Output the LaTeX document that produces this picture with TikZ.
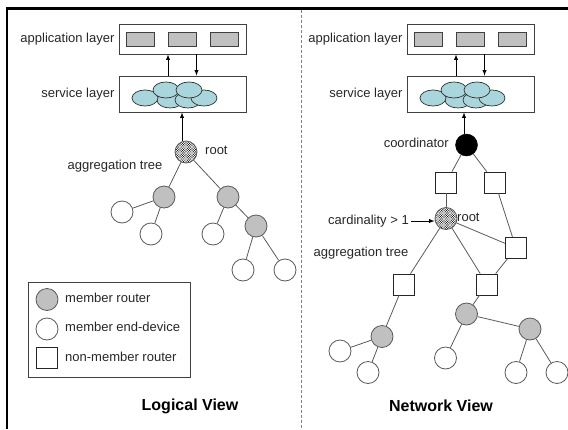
\documentclass[tikz,border=0pt]{standalone}
\usepackage{fontspec}
\setmainfont{Liberation Sans}
\usetikzlibrary{arrows, patterns}
\definecolor{boxgray}{RGB}{192,192,192}
\definecolor{cloudblue}{RGB}{168,214,220}
\definecolor{edgegray}{RGB}{90,90,90}

\pgfdeclarepatternformonly{densedots}{\pgfqpoint{-1pt}{-1pt}}{\pgfqpoint{3pt}{3pt}}{\pgfqpoint{2.4pt}{2.4pt}}{
    \pgfpathcircle{\pgfqpoint{0pt}{0pt}}{.6pt}
    \pgfpathcircle{\pgfqpoint{1.2pt}{1.2pt}}{.6pt}
    \pgfusepath{fill}
}

\tikzset{
    member/.style={circle, draw=edgegray, fill=boxgray, line width=0.8pt, minimum size=22pt, inner sep=0pt},
    enddevice/.style={circle, draw=edgegray, fill=white, line width=0.8pt, minimum size=22pt, inner sep=0pt},
    nonmember/.style={rectangle, draw=black!85, fill=white, line width=0.8pt, minimum size=21pt, inner sep=0pt},
    rootnode/.style={circle, draw=edgegray, preaction={fill=white}, pattern=densedots, line width=0.8pt, minimum size=22pt, inner sep=0pt},
    coordnode/.style={circle, draw=black, fill=black, minimum size=22pt, inner sep=0pt},
    layerbox/.style={rectangle, draw=black!75, fill=white, line width=0.8pt, minimum width=127pt, inner sep=0pt},
    cell/.style={rectangle, draw=black!75, fill=boxgray, line width=0.8pt, minimum width=28pt, minimum height=14pt, inner sep=0pt},
    cloud/.style={draw=black!80, fill=cloudblue, line width=0.7pt},
    treeedge/.style={draw=edgegray, line width=0.8pt},
    arrowline/.style={-latex, line width=0.9pt},
    txt/.style={font=\fontsize{13}{15}\selectfont, text=black!85, inner sep=0pt},
    viewtitle/.style={font=\fontsize{16}{19}\selectfont\bfseries, inner sep=0pt}
}

\begin{document}
\begin{tikzpicture}[x=1pt, y=-1pt]
        \useasboundingbox (0,0) rectangle (568,429);

        \draw[line width=3pt] (7,8.5) -- (568,8.5);
        \draw[line width=1.5pt] (7,7) -- (7,429);
        \draw[gray, line width=1pt, dash pattern=on 3pt off 2pt] (301.5,10) -- (301.5,429);

        \foreach \dx/\side in {0/L, 288/R} {
            \node[layerbox, minimum height=30pt] (app\side) at (182.5+\dx,39) {};
            \foreach \cx/\k in {-42/1, 0/2, 42/3}
                \node[cell] (cell\side\k) at (182.5+\dx+\cx,39) {};
            \node[layerbox, minimum height=36pt] (svc\side) at (182.5+\dx,94) {};
            \foreach \ex/\ey in {170/100, 188/100, 145/98, 204/98, 166/90, 189/90}
                \draw[cloud] (\ex+\dx,\ey) ellipse [x radius=13pt, y radius=8pt];
            \node[txt, anchor=east] (apptxt\side) at ([xshift=-4pt]app\side.west) {application layer};
            \node[txt, anchor=east] (svctxt\side) at ([xshift=-4pt]svc\side.west) {service layer};
            \draw[arrowline] ([xshift=-14.5pt]svc\side.north) -- ([xshift=-14.5pt]app\side.south);
            \draw[arrowline] ([xshift=14pt]app\side.south) -- ([xshift=14pt]svc\side.north);
        }

        % logical view
        \node[rootnode] (rootL) at (186,152) {};
        \node[member] (mL1) at (164,197) {};
        \node[member] (mL2) at (228,197) {};
        \node[member] (mL3) at (256,226) {};
        \node[enddevice] (eL1) at (122,212) {};
        \node[enddevice] (eL2) at (151,234) {};
        \node[enddevice] (eL3) at (213,234) {};
        \node[enddevice] (eL4) at (243,270) {};
        \node[enddevice] (eL5) at (285,270) {};
        \foreach \a/\b in {rootL/mL1, rootL/mL2, mL1/eL1, mL1/eL2, mL2/eL3, mL2/mL3, mL3/eL4, mL3/eL5}
            \draw[treeedge] (\a) -- (\b);
        \draw[arrowline] ([xshift=-4pt]rootL.north) -- ([xshift=-4pt]rootL.north |- svcL.south);
        \node[txt, anchor=west] (rootLtxt) at (205,150) {root};
        \node[txt] (treeLtxt) at (115,166) {aggregation tree};

        \draw[black!75, line width=0.8pt] (28,282) rectangle (190,377);
        \node[member] (keyM) at (47,299.5) {};
        \node[enddevice] (keyE) at (47,329) {};
        \node[nonmember] (keyN) at (47,358) {};
        \node[txt, anchor=west] (keyMtxt) at (65,297.5) {member router};
        \node[txt, anchor=west] (keyEtxt) at (65,327) {member end-device};
        \node[txt, anchor=west] (keyNtxt) at (65,356.5) {non-member router};

        \node[viewtitle] (logical) at (190,406) {Logical View};

        % network view
        \node[coordnode] (coordR) at (466.5,145) {};
        \node[nonmember] (nR1) at (446,182.5) {};
        \node[nonmember] (nR2) at (495,182.5) {};
        \node[rootnode] (rootR) at (446,218.5) {};
        \node[nonmember] (nR3) at (516,248) {};
        \node[nonmember] (nR4) at (403.5,284.5) {};
        \node[nonmember] (nR5) at (487,284.5) {};
        \node[member] (mR1) at (382,336.5) {};
        \node[member] (mR2) at (466.5,314) {};
        \node[member] (mR3) at (530,329) {};
        \node[enddevice] (eR1) at (340,351) {};
        \node[enddevice] (eR2) at (368,372.5) {};
        \node[enddevice] (eR3) at (445.5,358) {};
        \node[enddevice] (eR4) at (516,372.5) {};
        \node[enddevice] (eR5) at (557,372.5) {};
        \foreach \a/\b in {coordR/nR1, coordR/nR2, nR1/rootR, rootR/nR3, nR2/nR3, rootR/nR4, rootR/nR5, nR3/nR5,
                nR4/mR1, mR1/eR1, mR1/eR2, nR5/mR2, mR2/mR3, mR2/eR3, mR3/eR4, mR3/eR5}
            \draw[treeedge] (\a) -- (\b);
        \draw[arrowline] ([xshift=-2.5pt]coordR.north) -- ([xshift=-2.5pt]coordR.north |- svcR.south);
        \node[txt, anchor=east] (coordRtxt) at (449,143) {coordinator};
        \node[txt, anchor=west] (rootRtxt) at (457,217) {root};
        \node[txt, anchor=east] (cardtxt) at (409,221) {cardinality > 1};
        \draw[arrowline] ([xshift=2pt]cardtxt.east) -- (cardtxt.east -| rootR.west);
        \node[txt] (treeRtxt) at (361,253) {aggregation tree};

        \node[viewtitle] (network) at (441,406) {Network View};

    \end{tikzpicture}
\end{document}
